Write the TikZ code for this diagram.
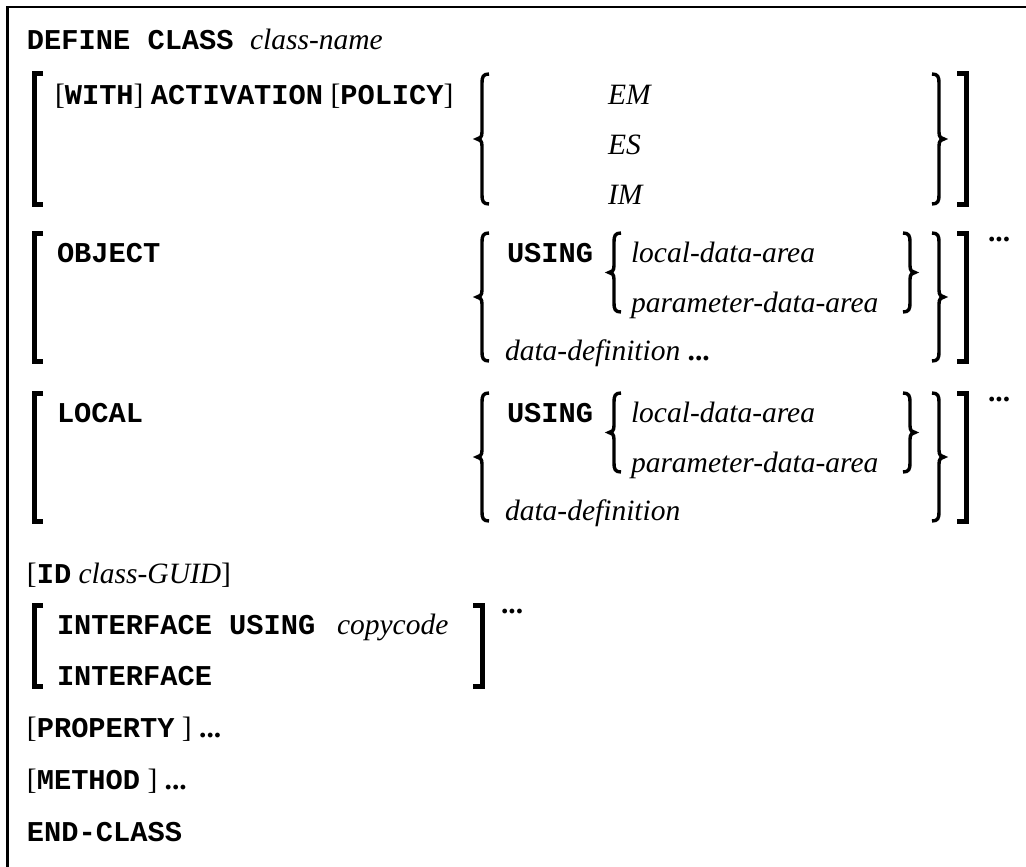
\documentclass[tikz,border=0pt]{standalone}
\usepackage{fontspec}
\setmainfont{Liberation Serif}
\setmonofont{Liberation Mono}
\newcommand\kwd[1]{{\fontsize{28.7}{34}\selectfont\ttfamily\bfseries #1}}
\newcommand\var[1]{\textit{#1}}
\newcommand\dotsb{{\bfseries ...}}
\tikzset{
  txt/.style={anchor=base west, inner sep=0pt, outer sep=0pt, font=\fontsize{29.5}{34}\selectfont},
  brk/.style={line width=5pt, line join=miter, line cap=butt},
  brc/.style={line width=3.4pt, line cap=butt},
  frame/.style={line width=2.6pt}
}
% left bracket: x, top, bottom
\newcommand\LBr[3]{\draw[brk] ({#1+9},#2) -- (#1,#2) -- (#1,#3) -- ({#1+9},#3);}
\newcommand\RBr[3]{\draw[brk] ({#1-9},#2) -- (#1,#2) -- (#1,#3) -- ({#1-9},#3);}
% left brace: x stem, top, bottom
\newcommand\LBc[3]{%
  \pgfmathsetmacro\mmid{(#2+#3)/2}%
  \draw[brc] ({#1+7},#2) .. controls ({#1+1},#2) and (#1,{#2+3}) .. (#1,{#2+9})
    -- (#1,{\mmid-7}) .. controls (#1,{\mmid-2}) and ({#1-2},\mmid) .. ({#1-5},\mmid)
    .. controls ({#1-2},\mmid) and (#1,{\mmid+2}) .. (#1,{\mmid+7})
    -- (#1,{#3-9}) .. controls (#1,{#3-3}) and ({#1+1},#3) .. ({#1+7},#3);}
\newcommand\RBc[3]{%
  \pgfmathsetmacro\mmid{(#2+#3)/2}%
  \draw[brc] ({#1-7},#2) .. controls ({#1-1},#2) and (#1,{#2+3}) .. (#1,{#2+9})
    -- (#1,{\mmid-7}) .. controls (#1,{\mmid-2}) and ({#1+2},\mmid) .. ({#1+5},\mmid)
    .. controls ({#1+2},\mmid) and (#1,{\mmid+2}) .. (#1,{\mmid+7})
    -- (#1,{#3-9}) .. controls (#1,{#3-3}) and ({#1-1},#3) .. ({#1-7},#3);}
\begin{document}
\begin{tikzpicture}[x=1pt,y=-1pt]
\useasboundingbox (0,0) rectangle (1026,867);
\draw[frame] (7.5,867) -- (7.5,7) -- (1026,7);

% DEFINE CLASS
\node[txt] (def) at (27,50) {\kwd{DEFINE CLASS}};
\node[txt] (cn) at (250,50) {\var{class-name}};

% ACTIVATION group
\LBr{34}{74}{204}
\node[txt] (act) at (55,105) {[\kwd{WITH}] \kwd{ACTIVATION} [\kwd{POLICY}]};
\LBc{482}{74}{204}
\node[txt] (em) at (608,105) {\var{EM}};
\node[txt] (es) at (608,154) {\var{ES}};
\node[txt] (im) at (608,204) {\var{IM}};
\RBc{939}{74}{204}
\RBr{966}{74}{204}

% OBJECT group
\LBr{34}{233}{361}
\node[txt] (obj) at (57,262) {\kwd{OBJECT}};
\LBc{482}{233}{361}
\node[txt] (us1) at (507,262) {\kwd{USING}};
\LBc{614}{233}{312}
\node[txt] (lda1) at (631,262) {\var{local-data-area}};
\node[txt] (pda1) at (631,312) {\var{parameter-data-area}};
\RBc{910}{233}{312}
\node[txt] (dd1) at (505,360) {\var{data-definition} \dotsb};
\RBc{939}{233}{361}
\RBr{966}{233}{361}
\node[txt] (dots1) at (988,241) {\dotsb};

% LOCAL group
\LBr{34}{393}{521}
\node[txt] (loc) at (57,422) {\kwd{LOCAL}};
\LBc{482}{393}{521}
\node[txt] (us2) at (507,422) {\kwd{USING}};
\LBc{614}{393}{472}
\node[txt] (lda2) at (631,422) {\var{local-data-area}};
\node[txt] (pda2) at (631,472) {\var{parameter-data-area}};
\RBc{910}{393}{472}
\node[txt] (dd2) at (505,520) {\var{data-definition}};
\RBc{939}{393}{521}
\RBr{966}{393}{521}
\node[txt] (dots2) at (988,401) {\dotsb};

% ID
\node[txt] (id) at (27,583) {[\kwd{ID} \var{class-GUID}]};

% INTERFACE group
\LBr{34}{605}{686}
\node[txt] (ifu) at (57,634) {\kwd{INTERFACE USING}};
\node[txt] (cc) at (337,634) {\var{copycode}};
\node[txt] (if) at (57,685) {\kwd{INTERFACE}};
\RBr{482}{605}{686}
\node[txt] (dots3) at (501,613) {\dotsb};

% trailing lines
\node[txt] (prop) at (27,737) {[\kwd{PROPERTY} ] \dotsb};
\node[txt] (meth) at (27,789) {[\kwd{METHOD} ] \dotsb};
\node[txt] (endc) at (27,841) {\kwd{END-CLASS}};
\end{tikzpicture}
\end{document}
